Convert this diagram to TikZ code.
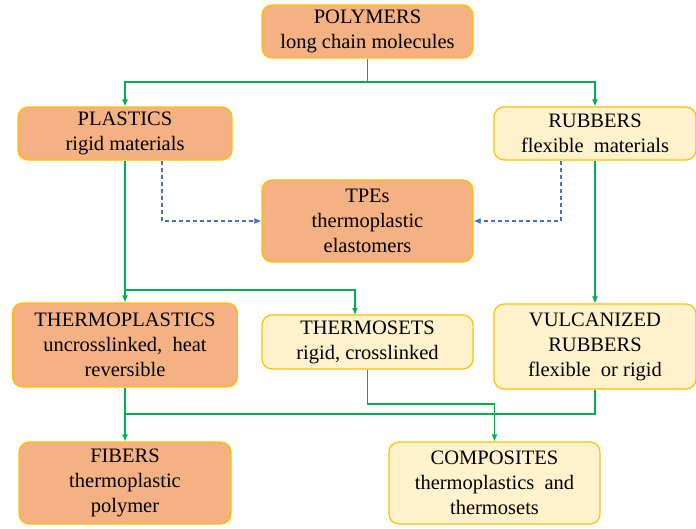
\documentclass[tikz,border=0pt]{standalone}
\usepackage{fontspec}
\setmainfont{Liberation Serif}
\newfontfamily\boxfont{Liberation Serif}
\usepackage{tikz}
\usetikzlibrary{calc,arrows.meta}
\definecolor{boxorange}{HTML}{F4B183}
\definecolor{boxyellow}{HTML}{FFF2CC}
\definecolor{boxedge}{HTML}{FFC000}
\definecolor{linkgreen}{HTML}{00B050}
\definecolor{linkblue}{HTML}{4472C4}

\begin{document}
\begin{tikzpicture}[x=1pt,y=-1pt,
    box/.style={draw=boxedge,line width=1.2pt,rounded corners=10pt,align=center,
      inner sep=0pt,font=\boxfont\fontsize{20.5}{25}\selectfont},
    hot/.style={box,fill=boxorange},
    pale/.style={box,fill=boxyellow},
    wire/.style={draw=linkgreen,line width=1.1pt},
    link/.style={wire,-{Latex[length=7pt,width=6pt]}},
    soft/.style={draw=linkblue,line width=1.2pt,dash pattern=on 4pt off 3pt,-{Latex[length=7pt,width=6pt]}}]
    \useasboundingbox (0,0) rectangle (696,528);
    \node[hot,minimum width=211pt,minimum height=53pt] (poly) at (367.5,31.5) {POLYMERS\\long chain molecules};
    \node[hot,minimum width=214pt,minimum height=53pt] (plast) at (125,133.5) {PLASTICS\\rigid materials};
    \node[pale,minimum width=202pt,minimum height=53pt] (rubb) at (595,133.5) {RUBBERS\\flexible~ materials};
    \node[hot,minimum width=211pt,minimum height=82pt] (tpe) at (367.5,221) {TPEs\\thermoplastic\\elastomers};
    \node[hot,minimum width=225pt,minimum height=84pt] (tplast) at (125,345) {THERMOPLASTICS\\uncrosslinked,~ heat\\reversible};
    \node[pale,minimum width=211pt,minimum height=54pt] (tset) at (367.5,342) {THERMOSETS\\rigid, crosslinked};
    \node[pale,minimum width=202pt,minimum height=85pt] (vulc) at (595,346.5) {VULCANIZED\\RUBBERS\\flexible~ or rigid};
    \node[hot,minimum width=212pt,minimum height=82pt] (fib) at (125,483) {FIBERS\\thermoplastic\\polymer};
    \node[pale,minimum width=211pt,minimum height=82pt] (comp) at (494.5,483) {COMPOSITES\\thermoplastics~ and\\thermosets};

    \coordinate (top) at (367.5,82);
    \coordinate (fork) at (125,290);
    \coordinate (tsetin) at (355,315);
    \coordinate (merge) at (125,414);
    \coordinate (bend) at (494.5,404);

    \draw[link] (poly.south) -- (top) -| (plast.north);
    \draw[link] (top) -| (rubb.north);
    \draw[link] (plast.south) -- (tplast.north);
    \draw[link] (fork) -| (tsetin);
    \draw[link] (rubb.south) -- (vulc.north);
    \draw[soft] ([xshift=37pt]plast.south) |- (tpe.west);
    \draw[soft] ([xshift=-34pt]rubb.south) |- (tpe.east);
    \draw[link] (tplast.south) -- (fib.north);
    \draw[wire] (vulc.south) |- (merge);
    \draw[link] (tset.south) |- (bend) -- (comp.north);
\end{tikzpicture}
\end{document}
